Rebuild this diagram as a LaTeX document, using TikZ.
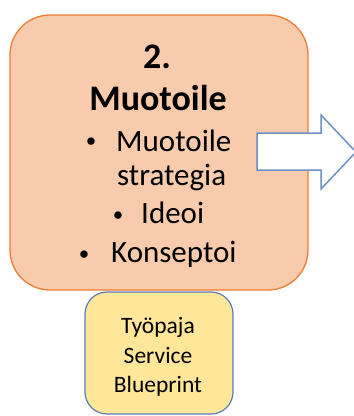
\documentclass[tikz,border=0pt]{standalone}
\usepackage{fontspec}
\setmainfont{Carlito}
\definecolor{stepfill}{HTML}{F8CBAD}
\definecolor{stepline}{HTML}{ED7D31}
\definecolor{toolfill}{HTML}{FFE699}
\definecolor{toolline}{HTML}{5B7DB8}
\definecolor{arrowline}{HTML}{6F8FC4}
\begin{document}
\begin{tikzpicture}[x=1pt,y=-1pt,
  stepbox/.style={draw=stepline,fill=stepfill,line width=1.3pt,rounded corners=40pt},
  toolbox/.style={draw=toolline,fill=toolfill,line width=1.2pt,rounded corners=22pt},
  title/.style={anchor=base,inner sep=0pt,font=\fontsize{36}{43}\selectfont\bfseries},
  item/.style={anchor=base west,inner sep=0pt,font=\fontsize{31}{37}\selectfont},
  dot/.style={anchor=base,inner sep=0pt,font=\fontsize{21}{25}\selectfont},
  tooltext/.style={anchor=base,inner sep=0pt,font=\fontsize{23.5}{28}\selectfont}]
\useasboundingbox (0,0) rectangle (354,416);
% workshop box below the step
\draw[toolbox] (85,292) rectangle (233,414);
\node[tooltext] (t1) at (158,333) {Työpaja};
\node[tooltext] (t2) at (158,363) {Service};
\node[tooltext] (t3) at (158,392) {Blueprint};
% step box
\draw[stepbox] (10,15) rectangle (308,290);
\node[title] (num) at (157,68) {2.};
\node[title] (head) at (158,110) {Muotoile};
\node[dot] (b1) at (91,147) {•};
\node[item] (i1) at (116,151) {Muotoile};
\node[item] (i1b) at (117,185) {strategia};
\node[dot] (b2) at (118,221) {•};
\node[item] (i2) at (141,223) {Ideoi};
\node[dot] (b3) at (84,260) {•};
\node[item] (i3) at (111,262) {Konseptoi};
% arrow to the next step
\draw[arrowline,fill=white,line width=1.5pt,line join=miter]
  (257,133) -- (321,133) -- (321,115) -- (356,152) -- (321,189) -- (321,170) -- (257,170) -- cycle;
\end{tikzpicture}
\end{document}
